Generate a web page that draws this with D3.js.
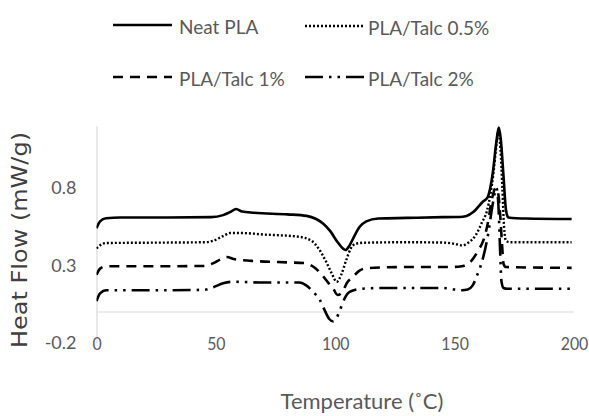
<!DOCTYPE html>
<html>
<head>
<meta charset="utf-8">
<script src="https://cdn.jsdelivr.net/npm/d3@7"></script>
<style>
  body { margin: 0; background: #fff; }
  svg { display: block; }
  text { font-family: Lato, "Open Sans", sans-serif; }
</style>
</head>
<body>
<svg id="chart" width="589" height="416"></svg>
<script>
// ---------- data ----------
const seriesNames = ["Neat PLA", "PLA/Talc 0.5%", "PLA/Talc 1%", "PLA/Talc 2%"];

const neatPLA = [
  [0,0.54],[1.5,0.585],[4,0.605],[10,0.61],[30,0.61],[48,0.612],[53,0.625],[56,0.645],[58.5,0.665],
  [61,0.648],[66,0.64],[80,0.63],[88,0.62],[92,0.60],[95,0.57],[98,0.52],[101,0.45],[104.3,0.40],
  [106,0.43],[108,0.49],[110,0.545],[113,0.585],[118,0.603],[130,0.607],[145,0.612],[152,0.613],
  [155,0.62],[157.8,0.645],[161.7,0.71],[163.8,0.74],[166,0.9],[167.5,1.1],[168.5,1.19],[169.3,1.12],
  [170.5,0.87],[171.5,0.66],[172.5,0.61],[180,0.603],[199,0.6]
];
const talc05 = [
  [0,0.41],[1.5,0.43],[4,0.445],[20,0.447],[45,0.45],[49,0.46],[53,0.49],[56,0.51],[60,0.51],
  [70,0.5],[85,0.485],[90,0.46],[93,0.41],[96,0.33],[98.5,0.25],[100.6,0.195],[102.5,0.24],
  [104.5,0.33],[106.5,0.41],[108.5,0.44],[112,0.447],[130,0.45],[145,0.448],[150,0.44],[153,0.43],
  [156,0.45],[159,0.5],[161.5,0.58],[163.5,0.65],[165,0.76],[166.3,0.9],[167.3,1.05],[168.3,1.16],
  [169.2,1.05],[170,0.8],[170.7,0.55],[171.5,0.46],[173,0.45],[199,0.45]
];
const talc1 = [
  [0,0.24],[1.5,0.28],[4,0.295],[20,0.295],[45,0.297],[49,0.315],[52,0.34],[54.5,0.355],[58,0.34],
  [65,0.33],[80,0.32],[87,0.316],[91,0.29],[94.4,0.24],[97,0.19],[99,0.155],[101,0.11],[103,0.13],
  [105,0.19],[107.3,0.225],[110,0.265],[113,0.283],[130,0.29],[148,0.29],[153,0.295],[157,0.33],
  [160,0.40],[162,0.46],[164,0.58],[165.5,0.72],[167.3,0.80],[168.3,0.76],[169.2,0.6],[169.8,0.45],
  [170.5,0.31],[171.5,0.29],[199,0.285]
];
const talc2 = [
  [0,0.07],[1.5,0.12],[4,0.14],[20,0.14],[45,0.143],[49,0.16],[53,0.185],[57,0.195],[70,0.19],
  [85,0.19],[88,0.17],[90.7,0.13],[93.5,0.08],[95.6,0.01],[97.5,-0.045],[99,-0.06],[100.5,-0.04],
  [101.9,0.01],[104,0.09],[106,0.13],[111,0.15],[120,0.155],[145,0.155],[150,0.145],[153,0.14],
  [155.5,0.145],[157.5,0.17],[159.5,0.24],[162,0.355],[164,0.5],[166,0.7],[167.5,0.8],[168.3,0.7],
  [169,0.42],[169.6,0.2],[170.5,0.155],[172,0.15],[199,0.15]
];

const xTicks = [0, 50, 100, 150, 200];
const yTicks = [-0.2, 0.3, 0.8];
const xTitle = "Temperature (˚C)";
const yTitle = "Heat Flow (mW/g)";

// ---------- styles ----------
const seriesData = [neatPLA, talc05, talc1, talc2];
const dashes = [null, "2,2", "10,7", "18,6,2.5,6,2.5,6"];
const widths = [2.6, 2.4, 2.6, 2.6];
const textColor = "#595959";
const axisColor = "#d9d9d9";

const svg = d3.select("#chart");
const x = d3.scaleLinear().domain([0, 200]).range([96.5, 574]);
const y = d3.scaleLinear().domain([-0.2, 1.2]).range([343, 126]);

const fmtY = v => d3.format(".1f")(v).replace("\u2212", "-");

// y axis
const yAxis = svg.append("g")
  .attr("transform", `translate(${x(0)},0)`)
  .call(d3.axisLeft(y).tickValues(yTicks).tickSize(0).tickPadding(20).tickFormat(fmtY));
yAxis.select(".domain").attr("stroke", axisColor).attr("stroke-width", 1.2);
yAxis.selectAll("text").attr("fill", textColor).style("font-size", "18px").style("font-family", "Lato");

// x axis labels at bottom
const xAxis = svg.append("g")
  .attr("transform", `translate(0,${y(-0.2)})`)
  .call(d3.axisBottom(x).tickValues(xTicks).tickSize(0).tickPadding(-6).tickFormat(d3.format("d")));
xAxis.select(".domain").remove();
xAxis.selectAll("text").attr("fill", textColor).style("font-size", "18px").style("font-family", "Lato")
  .attr("transform", "scale(0.88,1)");

// zero line
svg.append("line")
  .attr("x1", x(0)).attr("x2", x(200))
  .attr("y1", y(0)).attr("y2", y(0))
  .attr("stroke", axisColor).attr("stroke-width", 1.2);

// series
const line = d3.line().x(d => x(d[0])).y(d => y(d[1])).curve(d3.curveMonotoneX);
svg.append("defs").append("clipPath").attr("id", "clip")
  .append("rect").attr("x", x(0)).attr("y", y(1.2) - 2).attr("width", x(200) - x(0)).attr("height", y(-0.2) - y(1.2) + 2);

seriesData.forEach((data, i) => {
  svg.append("path")
    .datum(data)
    .attr("d", line)
    .attr("fill", "none")
    .attr("stroke", "#000")
    .attr("stroke-width", widths[i])
    .attr("stroke-dasharray", dashes[i])
    .attr("stroke-linejoin", "round")
    .attr("clip-path", "url(#clip)");
});

// legend
const legendPos = [
  {lx: 113, ly: 25, tx: 179},
  {lx: 305, ly: 26, tx: 368},
  {lx: 113, ly: 77, tx: 179},
  {lx: 305, ly: 77, tx: 368}
];
seriesNames.forEach((name, i) => {
  const p = legendPos[i];
  svg.append("line")
    .attr("x1", p.lx).attr("x2", p.lx + 59)
    .attr("y1", p.ly).attr("y2", p.ly)
    .attr("stroke", "#000")
    .attr("stroke-width", widths[i])
    .attr("stroke-dasharray", dashes[i]);
  svg.append("text")
    .attr("x", p.tx).attr("y", p.ly + 1)
    .attr("dominant-baseline", "central")
    .attr("fill", textColor)
    .style("font-size", "19px")
    .text(name);
});

// axis titles
svg.append("text")
  .attr("x", 362).attr("y", 400)
  .attr("text-anchor", "middle")
  .attr("dominant-baseline", "central")
  .attr("fill", textColor)
  .style("font-size", "22px")
  .text(xTitle);

svg.append("text")
  .attr("transform", `translate(20,240) rotate(-90) scale(1,0.88)`)
  .attr("text-anchor", "middle")
  .attr("dominant-baseline", "central")
  .attr("fill", "#404040")
  .style("font-family", "'DejaVu Sans'")
  .style("font-size", "24px")
  .text(yTitle);
</script>
</body>
</html>
